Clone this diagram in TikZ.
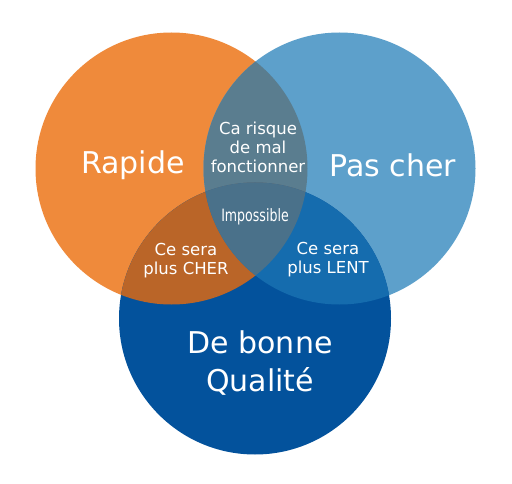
\documentclass[tikz,border=0pt]{standalone}
\usepackage{fontspec}
\setmainfont{DejaVu Sans}
\newfontfamily\narrowfont[FakeStretch=0.74]{DejaVu Sans}
\definecolor{cO}{HTML}{EF8A3B}
\definecolor{cB}{HTML}{5DA0CB}
\definecolor{cD}{HTML}{03529C}
\definecolor{cOB}{HTML}{5A7D8F}
\definecolor{cOD}{HTML}{BA6528}
\definecolor{cBD}{HTML}{156CAE}
\definecolor{cOBD}{HTML}{4A718A}
\tikzset{
  bigtxt/.style={text=white,font=\fontsize{30}{38}\selectfont,align=center,inner sep=0pt},
  smalltxt/.style={text=white,font=\fontsize{16.5}{19}\selectfont,align=center,inner sep=0pt},
}
\begin{document}
\begin{tikzpicture}[x=1pt,y=-1pt]
\useasboundingbox (0,0) rectangle (512,484);
\fill[white] (0,0) rectangle (512,484);
\coordinate (O) at (171.5,168.5);
\coordinate (B) at (339.5,168.5);
\coordinate (D) at (255,318.5);
\def\R{136}
\fill[cO] (O) circle (\R);
\fill[cB] (B) circle (\R);
\fill[cD] (D) circle (\R);
\begin{scope}\clip (O) circle (\R); \fill[cOB] (B) circle (\R); \end{scope}
\begin{scope}\clip (O) circle (\R); \fill[cOD] (D) circle (\R); \end{scope}
\begin{scope}\clip (B) circle (\R); \fill[cBD] (D) circle (\R); \end{scope}
\begin{scope}\clip (O) circle (\R); \clip (B) circle (\R); \fill[cOBD] (D) circle (\R); \end{scope}
\node[bigtxt] (rapide) at (133,165) {Rapide};
\node[bigtxt] (pascher) at (393,165) {Pas cher};
\node[bigtxt] (qualite) at (260,363) {De bonne\\Qualité};
\node[smalltxt] (risque) at (258,147) {Ca risque\\de mal\\fonctionner};
\node[text=white,inner sep=0pt,font=\narrowfont\fontsize{17}{19}\selectfont] (imposs) at (255,217) {Impossible};
\node[smalltxt] (cher) at (186,261) {Ce sera\\plus CHER};
\node[smalltxt] (lent) at (328,260) {Ce sera\\plus LENT};
\end{tikzpicture}
\end{document}
